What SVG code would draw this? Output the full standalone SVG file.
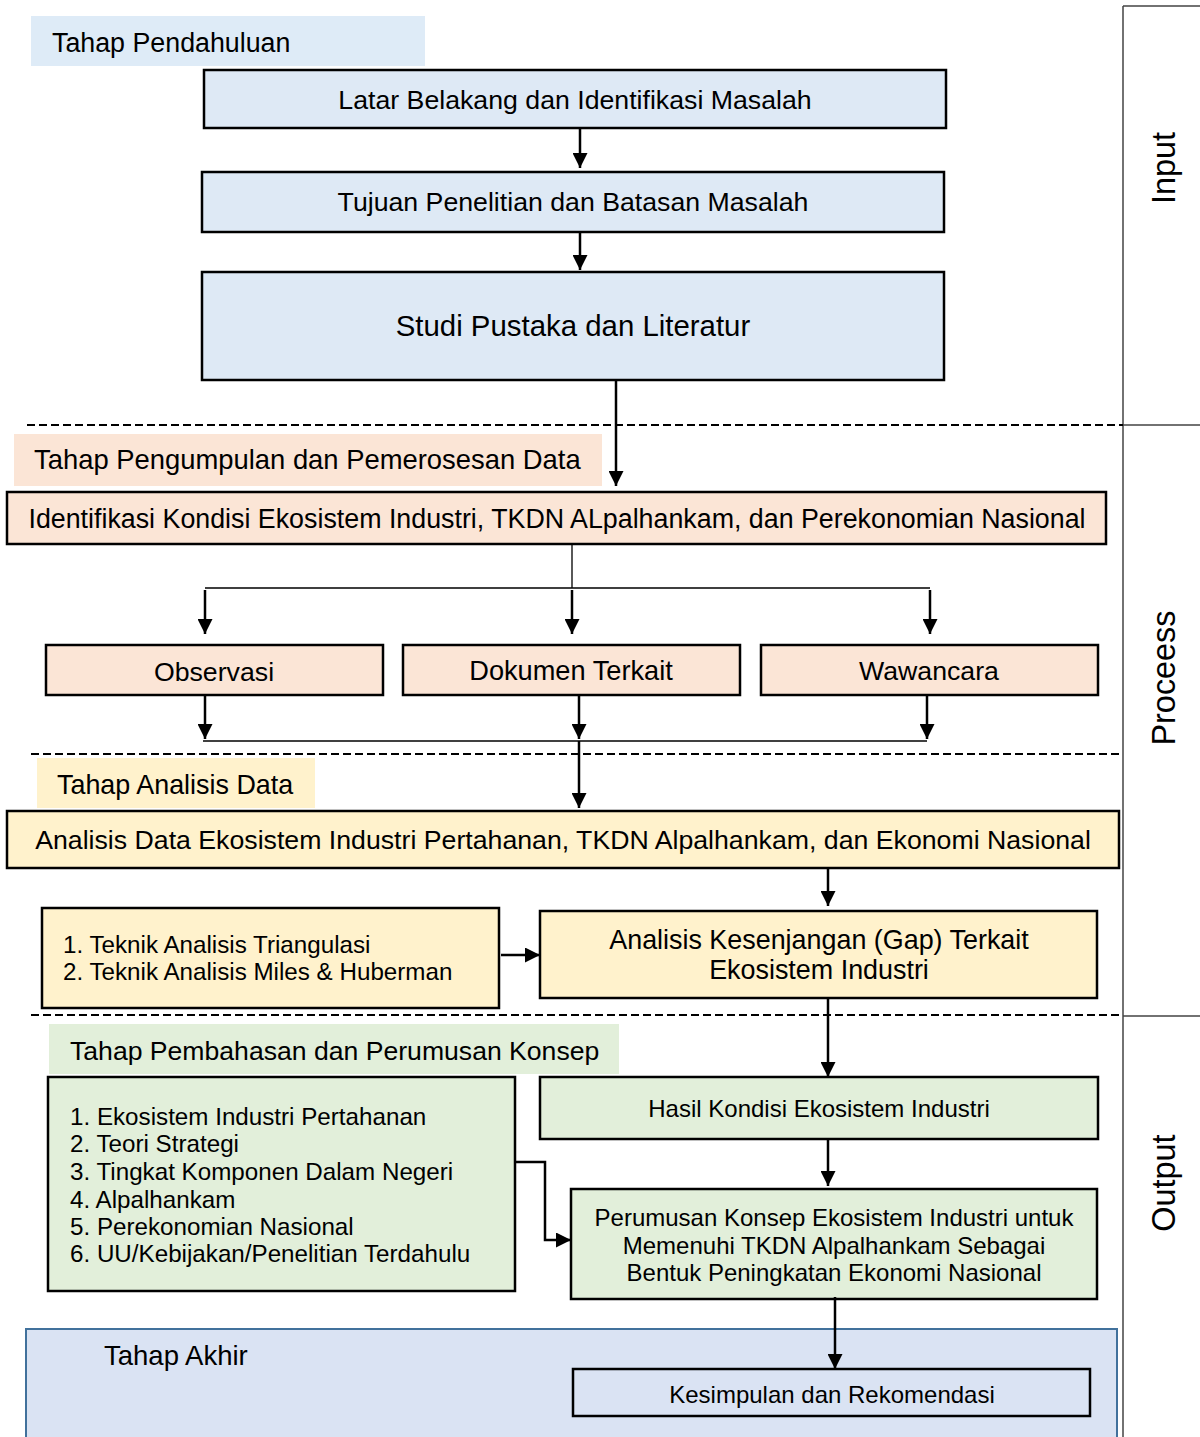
<svg xmlns="http://www.w3.org/2000/svg" width="1200" height="1437" viewBox="0 0 1200 1437">
<defs>
<marker id="ah" viewBox="0 0 10 10" refX="10" refY="5" markerWidth="6" markerHeight="6" orient="auto" markerUnits="strokeWidth"><path d="M0,0 L10,5 L0,10 z" fill="#000"/></marker>
<style>
text{font-family:"Liberation Sans",Arial,sans-serif;fill:#000}
.box{stroke:#000;stroke-width:2.5}
.blue{fill:#dee9f5}
.lav{fill:#dae3f3}
.hblue{fill:#deebf7}
.peach{fill:#fbe5d6}
.yel{fill:#fff2cc}
.grn{fill:#e2efda}
.c{text-anchor:middle}
.t26{font-size:26.7px}
.t24{font-size:24.2px}
.conn{stroke:#000;stroke-width:2.5;fill:none}
.thin{stroke:#000;stroke-width:1.3;fill:none}
.dash{stroke:#000;stroke-width:2;stroke-dasharray:8,4;fill:none}
.side{stroke:#444;stroke-width:1.5;fill:none}
</style>
</defs>

<g id="side">
<path class="side" d="M1123,6 V1437 M1123,6 H1200 M1123,425 H1200 M1123,1016 H1200"/>
<text transform="translate(1175,168) rotate(-90)" class="c" style="font-size:32.4px">Input</text>
<text transform="translate(1175,678) rotate(-90)" class="c" style="font-size:32.4px">Proceess</text>
<text transform="translate(1175,1183) rotate(-90)" class="c" style="font-size:32.4px">Output</text>
</g>

<g id="dividers">
<path class="dash" d="M27,425 H1123 M31,754 H1123 M31,1015 H1123"/>
</g>

<g id="akhir">
<rect x="26" y="1329" width="1091" height="112" fill="#dae3f3" stroke="#41719c" stroke-width="2"/>
<text x="104" y="1365" style="font-size:27.5px">Tahap Akhir</text>
</g>

<g id="h1"><rect x="31" y="16" width="394" height="50" class="hblue"/><text x="52" y="52" style="font-size:26.8px">Tahap Pendahuluan</text></g>
<g id="n1"><rect x="204" y="70" width="742" height="58" class="box blue"/><text x="575" y="109" class="c t26">Latar Belakang dan Identifikasi Masalah</text></g>
<g id="n2"><rect x="202" y="172" width="742" height="60" class="box blue"/><text x="573" y="211" class="c t26">Tujuan Penelitian dan Batasan Masalah</text></g>
<g id="n3"><rect x="202" y="272" width="742" height="108" class="box blue"/><text x="573" y="336" class="c" style="font-size:29.4px">Studi Pustaka dan Literatur</text></g>

<g id="h2"><rect x="14" y="434" width="588" height="52" class="peach"/><text x="34" y="469" style="font-size:27.4px">Tahap Pengumpulan dan Pemerosesan Data</text></g>
<g id="n4"><rect x="7" y="492" width="1099" height="52" class="box peach"/><text x="557" y="528" class="c" style="font-size:26.8px">Identifikasi Kondisi Ekosistem Industri, TKDN ALpalhankam, dan Perekonomian Nasional</text></g>
<g id="n5"><rect x="46" y="645" width="337" height="50" class="box peach"/><text x="214" y="681" class="c t26">Observasi</text></g>
<g id="n6"><rect x="403" y="645" width="337" height="50" class="box peach"/><text x="571" y="680" class="c" style="font-size:27.2px">Dokumen Terkait</text></g>
<g id="n7"><rect x="761" y="645" width="337" height="50" class="box peach"/><text x="929" y="680" class="c t26">Wawancara</text></g>

<g id="h3"><rect x="37" y="758" width="278" height="50" class="yel"/><text x="57" y="794" style="font-size:26.9px">Tahap Analisis Data</text></g>
<g id="n8"><rect x="7" y="811" width="1112" height="57" class="box yel"/><text x="563" y="849" class="c" style="font-size:26.7px">Analisis Data Ekosistem Industri Pertahanan, TKDN Alpalhankam, dan Ekonomi Nasional</text></g>
<g id="n9"><rect x="42" y="908" width="457" height="100" class="box yel"/>
<text x="63" y="953" class="t24">1. Teknik Analisis Triangulasi</text>
<text x="63" y="980" class="t24">2. Teknik Analisis Miles &amp; Huberman</text></g>
<g id="n10"><rect x="540" y="911" width="557" height="87" class="box yel"/>
<text x="819" y="949" class="c" style="font-size:26.9px">Analisis Kesenjangan (Gap) Terkait</text>
<text x="819" y="979" class="c" style="font-size:26.9px">Ekosistem Industri</text></g>

<g id="h4"><rect x="49" y="1024" width="570" height="50" class="grn"/><text x="70" y="1060" style="font-size:26.6px">Tahap Pembahasan dan Perumusan Konsep</text></g>
<g id="n11"><rect x="48" y="1077" width="467" height="214" class="box grn"/>
<text x="70" y="1125" class="t24">1. Ekosistem Industri Pertahanan</text>
<text x="70" y="1152" class="t24">2. Teori Strategi</text>
<text x="70" y="1180" class="t24">3. Tingkat Komponen Dalam Negeri</text>
<text x="70" y="1208" class="t24">4. Alpalhankam</text>
<text x="70" y="1235" class="t24">5. Perekonomian Nasional</text>
<text x="70" y="1262" class="t24">6. UU/Kebijakan/Penelitian Terdahulu</text></g>
<g id="n12"><rect x="540" y="1077" width="558" height="62" class="box grn"/><text x="819" y="1117" class="c" style="font-size:24px">Hasil Kondisi Ekosistem Industri</text></g>
<g id="n13"><rect x="571" y="1189" width="526" height="110" class="box grn"/>
<text x="834" y="1226" class="c" style="font-size:24px">Perumusan Konsep Ekosistem Industri untuk</text>
<text x="834" y="1254" class="c" style="font-size:24px">Memenuhi TKDN Alpalhankam Sebagai</text>
<text x="834" y="1281" class="c" style="font-size:24px">Bentuk Peningkatan Ekonomi Nasional</text></g>
<g id="n14"><rect x="573" y="1369" width="517" height="47" class="box lav"/><text x="832" y="1403" class="c" style="font-size:24px">Kesimpulan dan Rekomendasi</text></g>

<g id="connectors">
<path class="conn" d="M580,128 V168" marker-end="url(#ah)"/>
<path class="conn" d="M580,232 V270" marker-end="url(#ah)"/>
<path class="conn" d="M616,380 V486" marker-end="url(#ah)"/>
<path class="thin" d="M572,544 V588 M205,588 H930"/>
<path class="conn" d="M205,590 V634" marker-end="url(#ah)"/>
<path class="conn" d="M572,590 V634" marker-end="url(#ah)"/>
<path class="conn" d="M930,590 V634" marker-end="url(#ah)"/>
<path class="conn" d="M205,695 V739" marker-end="url(#ah)"/>
<path class="conn" d="M579,695 V739" marker-end="url(#ah)"/>
<path class="conn" d="M927,695 V739" marker-end="url(#ah)"/>
<path class="thin" d="M203,741 H927"/>
<path class="conn" d="M579,741 V808" marker-end="url(#ah)"/>
<path class="conn" d="M828,868 V906" marker-end="url(#ah)"/>
<path class="conn" d="M501,955 H540" marker-end="url(#ah)"/>
<path class="conn" d="M828,998 V1077" marker-end="url(#ah)"/>
<path class="conn" d="M828,1139 V1186" marker-end="url(#ah)"/>
<path class="conn" d="M515,1162 H545 V1240 H571" marker-end="url(#ah)"/>
<path class="conn" d="M835,1297 V1369" marker-end="url(#ah)"/>
</g>
</svg>
